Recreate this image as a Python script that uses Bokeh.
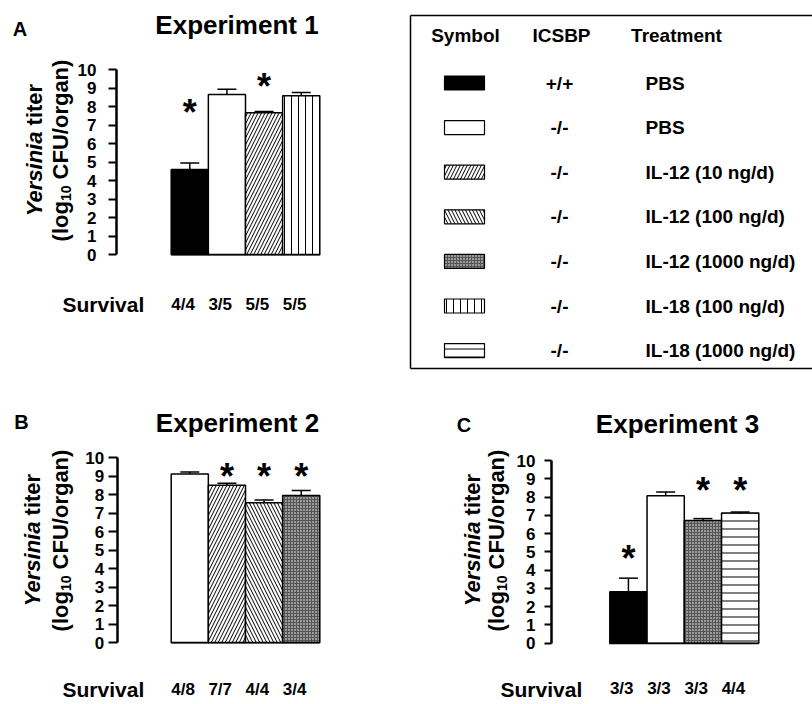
import math
from bokeh.plotting import figure
from bokeh.layouts import column, row
from bokeh.models import ColumnDataSource, FixedTicker, Range1d, Whisker, TeeHead
from bokeh.core.properties import value
from bokeh.embed import file_html
from bokeh.resources import INLINE

FONT = "Liberation Sans"

# ---------------- data ----------------
legend_keys = ["wt_pbs", "ko_pbs", "il12_10", "il12_100", "il12_1000", "il18_100", "il18_1000"]
legend_icsbp = ["+/+", "-/-", "-/-", "-/-", "-/-", "-/-", "-/-"]
legend_treatment = ["PBS", "PBS", "IL-12 (10 ng/d)", "IL-12 (100 ng/d)", "IL-12 (1000 ng/d)",
                    "IL-18 (100 ng/d)", "IL-18 (1000 ng/d)"]
legend_headers = ["Symbol", "ICSBP", "Treatment"]

exp1_groups = ["wt_pbs", "ko_pbs", "il12_10", "il18_100"]
exp1_mean = [4.6, 8.65, 7.66, 8.58]
exp1_sem = [0.35, 0.28, 0.08, 0.18]
exp1_survival = ["4/4", "3/5", "5/5", "5/5"]
exp1_star_bar = [0, 2]
exp1_star_y = [7.95, 9.35]

exp2_groups = ["ko_pbs", "il12_10", "il12_100", "il12_1000"]
exp2_mean = [9.13, 8.52, 7.57, 7.96]
exp2_sem = [0.10, 0.11, 0.15, 0.27]
exp2_survival = ["4/8", "7/7", "4/4", "3/4"]
exp2_star_bar = [1, 2, 3]
exp2_star_y = [9.24, 9.24, 9.24]

exp3_groups = ["wt_pbs", "ko_pbs", "il12_1000", "il18_1000"]
exp3_mean = [2.81, 8.07, 6.72, 7.12]
exp3_sem = [0.75, 0.20, 0.10, 0.06]
exp3_survival = ["3/3", "3/3", "3/3", "4/4"]
exp3_star_bar = [0, 2, 3]
exp3_star_y = [4.93, 8.63, 8.63]

y_ticks = list(range(0, 11))

# ---------------- styles ----------------
STYLE = {
    "wt_pbs":    dict(fill="#000000", hatch=" ", scale=6, hcolor="#000000"),
    "ko_pbs":    dict(fill="#ffffff", hatch=" ", scale=6, hcolor="#000000"),
    "il12_10":   dict(fill="#ffffff", hatch="/", scale=7, hcolor="#000000"),
    "il12_100":  dict(fill="#ffffff", hatch="\\", scale=7, hcolor="#000000"),
    "il12_1000": dict(fill="#9a9a9a", hatch="+", scale=3, hcolor="#555555"),
    "il18_100":  dict(fill="#ffffff", hatch="|", scale=7, hcolor="#000000"),
    "il18_1000": dict(fill="#ffffff", hatch="-", scale=8, hcolor="#000000"),
}


def panel(groups, mean, sem, survival, star_bar, star_y, title, letter, g):
    ox, oy, w, h = g["ox"], g["oy"], g["w"], g["h"]
    ux = (g["br"] - g["bl"]) / len(groups)
    uy = (g["y0"] - g["y10"]) / 10.0

    def X(px):
        return -0.5 + (px - g["bl"]) / ux

    def Y(py):
        return (g["y0"] - py) / uy

    p = figure(width=w, height=h, x_range=Range1d(X(ox), X(ox + w)),
               y_range=Range1d(Y(oy + h), Y(oy)), output_backend="svg",
               toolbar_location=None, min_border=0, min_border_left=0, min_border_right=0,
               min_border_top=0, min_border_bottom=0)
    p.xgrid.visible = False
    p.ygrid.visible = False
    p.outline_line_color = None
    p.background_fill_color = "white"
    p.border_fill_color = "white"

    xs = list(range(len(groups)))
    src = ColumnDataSource(dict(
        x=xs, top=mean, upper=[m + s for m, s in zip(mean, sem)],
        fill=[STYLE[k]["fill"] for k in groups],
        hatch=[STYLE[k]["hatch"] for k in groups],
        scale=[STYLE[k]["scale"] for k in groups],
        hcolor=[STYLE[k]["hcolor"] for k in groups],
    ))
    p.vbar(x="x", top="top", bottom=0, width=1.0, source=src, fill_color="fill",
           hatch_pattern="hatch", hatch_scale="scale", hatch_color="hcolor", hatch_weight=1,
           line_color="black", line_width=1.5)
    p.add_layout(Whisker(base="x", upper="upper", lower="top", source=src,
                         upper_head=TeeHead(size=19, line_width=1.5, line_color="black"),
                         lower_head=None, line_width=1.5, line_color="black"))
    ssrc = ColumnDataSource(dict(x=star_bar, y=star_y, t=["*"] * len(star_bar)))
    p.text(x="x", y="y", text="t", source=ssrc, text_font=value(FONT), text_font_style="bold",
           text_font_size="36px", text_align="center", text_baseline="alphabetic",
           y_offset=5, text_color="black")

    # y axis drawn at its place inside the full-canvas frame
    ya = p.yaxis[0]
    ya.fixed_location = X(g["ax"])
    ya.bounds = (0, 10)
    ya.ticker = FixedTicker(ticks=y_ticks, minor_ticks=[])
    ya.axis_line_width = 2.5
    ya.major_tick_line_width = 2
    ya.major_tick_out = g["tick"]
    ya.major_tick_in = 0
    ya.minor_tick_out = 0
    ya.minor_tick_in = 0
    ya.major_label_standoff = g["ystand"]
    ya.major_label_text_font = FONT
    ya.major_label_text_font_style = "bold"
    ya.major_label_text_font_size = "17px"
    ya.major_label_text_color = "black"

    xa = p.xaxis[0]
    xa.fixed_location = 0
    ticks = [round(i - 0.18, 2) for i in xs]
    xa.ticker = FixedTicker(ticks=ticks, minor_ticks=[])
    xa.major_label_overrides = {t: s for t, s in zip(ticks, survival)}
    xa.bounds = (-0.5, len(groups) - 0.5)
    xa.axis_line_width = 1.5
    xa.major_tick_out = 0
    xa.major_tick_in = 0
    xa.minor_tick_out = 0
    xa.minor_tick_in = 0
    xa.major_label_standoff = g["xstand"]
    xa.major_label_text_font = FONT
    xa.major_label_text_font_style = "bold"
    xa.major_label_text_font_size = "17px"
    xa.major_label_text_color = "black"

    common = dict(text_font=value(FONT), text_color="black")
    # panel letter, title, "Survival"
    p.text(x=[X(g["letter"][0])], y=[Y(g["letter"][1])], text=[letter], text_font_size="20px",
           text_font_style="bold", text_align="center", text_baseline="middle", **common)
    p.text(x=[X(g["title"][0])], y=[Y(g["title"][1])], text=[title], text_font_size="26px",
           text_font_style="bold", text_align="center", text_baseline="middle", **common)
    p.text(x=[X(g["surv"][0])], y=[Y(g["surv"][1])], text=["Survival"], text_font_size="21px",
           text_font_style="bold", text_align="left", text_baseline="middle", **common)

    # rotated two-line y label: "Yersinia titer" / "(log10 CFU/organ)"
    cx1, cx2, cy = g["yl"]
    fs = 22
    sub = 14
    sp = 0.278 * fs
    a = math.pi / 2
    w1, w2 = 3.891 * fs, 2.167 * fs
    j = cy + (w1 + w2) / 2 - w1
    p.text(x=[X(cx1)], y=[Y(j)], text=["Yersinia"], angle=a, text_font_size=f"{fs}px",
           text_font_style="bold italic", text_align="right", text_baseline="middle", **common)
    p.text(x=[X(cx1)], y=[Y(j - sp)], text=["titer"], angle=a, text_font_size=f"{fs}px",
           text_font_style="bold", text_align="left", text_baseline="middle", **common)
    wa, wb, wc = 1.833 * fs, 1.112 * sub, 5.722 * fs
    bottom = cy + (wa + wb + wc) / 2
    j1 = bottom - wa
    j2 = j1 - wb
    p.text(x=[X(cx2)], y=[Y(j1)], text=["(log"], angle=a, text_font_size=f"{fs}px",
           text_font_style="bold", text_align="right", text_baseline="middle", **common)
    p.text(x=[X(cx2 + 5)], y=[Y(j1)], text=["10"], angle=a, text_font_size=f"{sub}px",
           text_font_style="bold", text_align="left", text_baseline="middle", **common)
    p.text(x=[X(cx2)], y=[Y(j2 - sp)], text=["CFU/organ)"], angle=a, text_font_size=f"{fs}px",
           text_font_style="bold", text_align="left", text_baseline="middle", **common)
    return p


GA = dict(ox=0, oy=0, w=400, h=380, ax=116, y0=254.3, y10=69.0, bl=170.7, br=319.3,
          tick=8, ystand=12, xstand=40, letter=(19.5, 28), title=(236.5, 24),
          yl=(34, 60, 150), surv=(62, 304))
GB = dict(ox=0, oy=380, w=410, h=324, ax=116.7, y0=642.3, y10=457.3, bl=170.7, br=319.3,
          tick=9, ystand=4, xstand=37, letter=(21, 421), title=(237, 422),
          yl=(32, 60, 540), surv=(62, 689))
GC = dict(ox=410, oy=380, w=402, h=324, ax=551, y0=642.7, y10=460.0, bl=609.3, br=758.3,
          tick=7, ystand=9, xstand=36, letter=(463.5, 424), title=(677, 423),
          yl=(472, 496, 540), surv=(500, 689))

pA = panel(exp1_groups, exp1_mean, exp1_sem, exp1_survival, exp1_star_bar, exp1_star_y,
           "Experiment 1", "A", GA)
pB = panel(exp2_groups, exp2_mean, exp2_sem, exp2_survival, exp2_star_bar, exp2_star_y,
           "Experiment 2", "B", GB)
pC = panel(exp3_groups, exp3_mean, exp3_sem, exp3_survival, exp3_star_bar, exp3_star_y,
           "Experiment 3", "C", GC)

# ---------------- legend table ----------------
LX0, LW, LH = 400, 412, 380
pL = figure(width=LW, height=LH, x_range=Range1d(LX0, LX0 + LW), y_range=Range1d(LH, 0),
            output_backend="svg", toolbar_location=None, x_axis_location=None,
            y_axis_location=None, min_border=0, min_border_left=0, min_border_right=0,
            min_border_top=0, min_border_bottom=0)
pL.xgrid.visible = False
pL.ygrid.visible = False
pL.outline_line_color = None
pL.border_fill_color = "white"

BOX_L, BOX_T, BOX_B, BOX_R = 410, 15, 368, 820
pL.segment(x0=[BOX_L, BOX_L, BOX_L], y0=[BOX_T, BOX_T, BOX_B], x1=[BOX_L, BOX_R, BOX_R],
           y1=[BOX_B, BOX_T, BOX_B], line_color="black", line_width=1.5)

ROW0, ROW_STEP, HEAD_Y = 82.5, 44.6, 35
COL_SYM, COL_ICSBP, COL_TREAT = 464, 559, 645
HEAD_X = [465, 561, 676]
rows_y = [ROW0 + i * ROW_STEP for i in range(len(legend_keys))]
lsrc = ColumnDataSource(dict(
    y=rows_y, x=[COL_SYM] * len(legend_keys),
    fill=[STYLE[k]["fill"] for k in legend_keys],
    hatch=[STYLE[k]["hatch"] for k in legend_keys],
    scale=[STYLE[k]["scale"] for k in legend_keys],
    hcolor=[STYLE[k]["hcolor"] for k in legend_keys],
    icsbp=legend_icsbp, treat=legend_treatment,
    xi=[COL_ICSBP] * len(legend_keys), xt=[COL_TREAT] * len(legend_keys),
))
pL.rect(x="x", y="y", width=40, height=14, source=lsrc, fill_color="fill", hatch_pattern="hatch",
        hatch_scale="scale", hatch_color="hcolor", hatch_weight=1, line_color="black",
        line_width=1.2)
pL.text(x="xi", y="y", text="icsbp", source=lsrc, text_font=value(FONT), text_font_style="bold",
        text_font_size="19px", text_align="center", text_baseline="middle", text_color="black")
pL.text(x="xt", y="y", text="treat", source=lsrc, text_font=value(FONT), text_font_style="bold",
        text_font_size="19px", text_align="left", text_baseline="middle", text_color="black")
pL.text(x=HEAD_X, y=[HEAD_Y] * 3, text=legend_headers, text_font=value(FONT),
        text_font_style="bold", text_font_size="19px", text_align="center",
        text_baseline="middle", text_color="black")

layout = column(row(pA, pL), row(pB, pC))
with open("out.html", "w") as f:
    f.write(file_html(layout, INLINE, title="Yersinia titer"))
